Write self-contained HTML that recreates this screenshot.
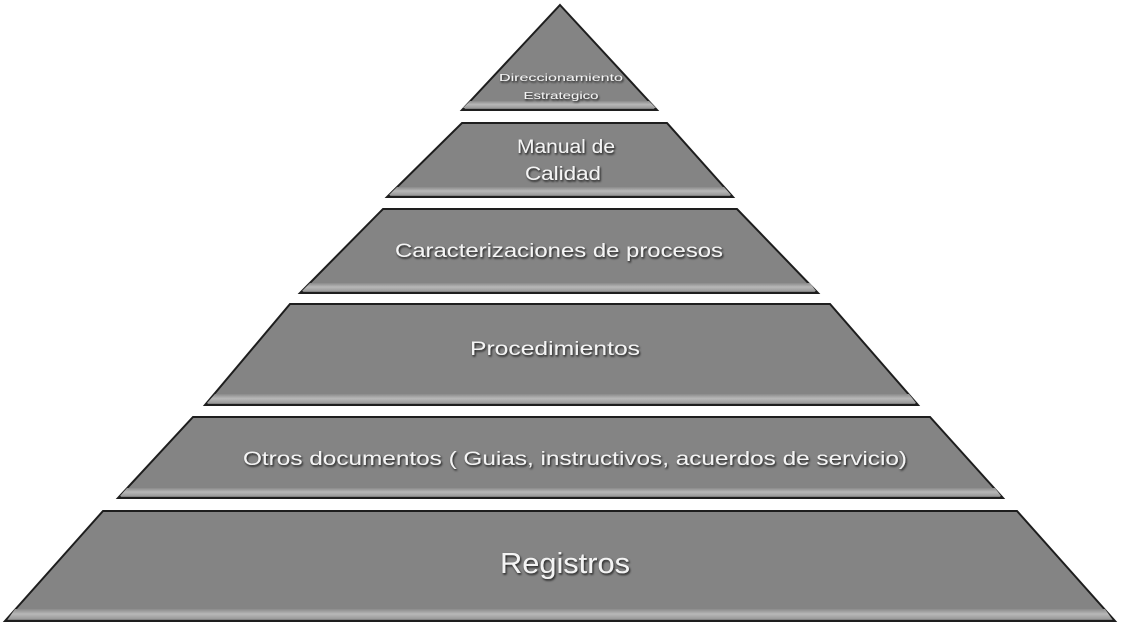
<!DOCTYPE html>
<html><head><meta charset="utf-8"><style>
html,body{margin:0;padding:0;background:#fff;}
svg{display:block;}
text{font-family:"Liberation Sans",sans-serif;fill:#f4f4f4;}
</style></head><body>
<svg width="1123" height="628" viewBox="0 0 1123 628" xmlns="http://www.w3.org/2000/svg">
<defs>
<filter id="sh" x="-10%" y="-30%" width="120%" height="160%">
<feDropShadow dx="1" dy="1.5" stdDeviation="1" flood-color="#111" flood-opacity="0.9"/>
</filter>
<linearGradient id="band" x1="0" y1="0" x2="0" y2="1">
<stop offset="0" stop-color="#8a8a8a"/>
<stop offset="0.5" stop-color="#b8b8b8"/>
<stop offset="1" stop-color="#9a9a9a"/>
</linearGradient>
</defs>
<g stroke="#1e1e1e" stroke-width="2" fill="#848484" stroke-linejoin="miter">
<polygon points="560,5 657,110 462,110"/>
<polygon points="462,123 667,123 733,197 387,197"/>
<polygon points="383,209 737,209 818,293 300,293"/>
<polygon points="290,304 830,304 918,405 205,405"/>
<polygon points="193,417 930,417 1003,498 118,498"/>
<polygon points="103,511 1017,511 1115,621 5,621"/>
</g>
<g fill="url(#band)">
<polygon points="470,101 649,101 656,108 463,108"/>
<polygon points="397,187 724,187 731,195 389,195"/>
<polygon points="310,283 810,283 816,291 302,291"/>
<polygon points="215,394 909,394 916,403 207,403"/>
<polygon points="127,488 995,488 1001,496 120,496"/>
<polygon points="15,609 1105,609 1112,619 8,619"/>
</g>
<g filter="url(#sh)">
<text x="561" y="81" font-size="10" text-anchor="middle" textLength="124" lengthAdjust="spacingAndGlyphs">Direccionamiento</text>
<text x="561" y="99" font-size="10" text-anchor="middle" textLength="75" lengthAdjust="spacingAndGlyphs">Estrategico</text>
<text x="566" y="153" font-size="19" text-anchor="middle" textLength="98" lengthAdjust="spacingAndGlyphs">Manual de</text>
<text x="563" y="180" font-size="19" text-anchor="middle" textLength="76" lengthAdjust="spacingAndGlyphs">Calidad</text>
<text x="559" y="257" font-size="19" text-anchor="middle" textLength="328" lengthAdjust="spacingAndGlyphs">Caracterizaciones de procesos</text>
<text x="555" y="355" font-size="19" text-anchor="middle" textLength="170" lengthAdjust="spacingAndGlyphs">Procedimientos</text>
<text x="575" y="465" font-size="19" text-anchor="middle" textLength="664" lengthAdjust="spacingAndGlyphs">Otros documentos ( Guias, instructivos, acuerdos de servicio)</text>
<text x="565" y="573" font-size="29" text-anchor="middle" textLength="130" lengthAdjust="spacingAndGlyphs">Registros</text>
</g>
</svg>
</body></html>
